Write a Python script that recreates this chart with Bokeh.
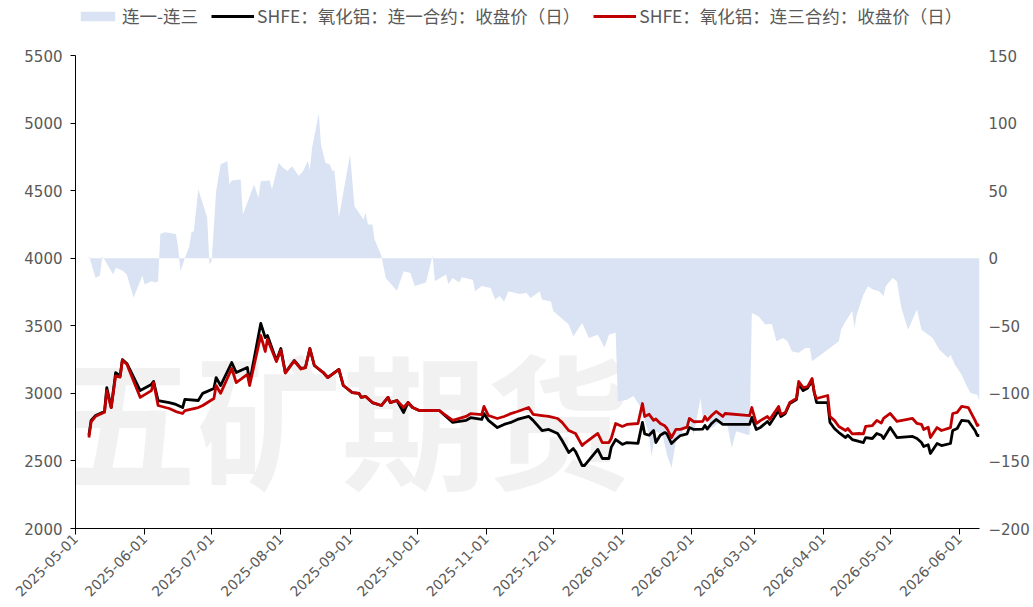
import math
import pandas as pd
from bokeh.plotting import figure
from bokeh.models import (Range1d, LinearAxis, FixedTicker, DatetimeTickFormatter,
                          Legend, LegendItem, Label)
from bokeh.embed import file_html
from bokeh.resources import INLINE

# ---------------- data ----------------
price_dates = [
    "2025-05-07", "2025-05-08", "2025-05-10", "2025-05-14", "2025-05-15", "2025-05-17",
    "2025-05-19", "2025-05-21", "2025-05-22", "2025-05-24", "2025-05-30", "2025-06-04",
    "2025-06-05", "2025-06-07", "2025-06-12", "2025-06-15", "2025-06-18", "2025-06-19",
    "2025-06-25", "2025-06-27", "2025-07-02", "2025-07-03", "2025-07-05", "2025-07-10",
    "2025-07-12", "2025-07-17", "2025-07-18", "2025-07-23", "2025-07-25", "2025-07-26",
    "2025-07-30", "2025-08-01", "2025-08-03", "2025-08-07", "2025-08-10", "2025-08-12",
    "2025-08-14", "2025-08-16", "2025-08-20", "2025-08-22", "2025-08-27", "2025-08-29",
    "2025-09-02", "2025-09-05", "2025-09-06", "2025-09-08", "2025-09-11", "2025-09-15",
    "2025-09-18", "2025-09-19", "2025-09-22", "2025-09-25", "2025-09-27", "2025-09-29",
    "2025-10-02", "2025-10-11", "2025-10-17", "2025-10-23", "2025-10-25", "2025-10-30",
    "2025-10-31", "2025-11-02", "2025-11-06", "2025-11-09", "2025-11-12", "2025-11-15",
    "2025-11-20", "2025-11-22", "2025-11-26", "2025-11-29", "2025-12-03", "2025-12-05",
    "2025-12-08", "2025-12-10", "2025-12-11", "2025-12-14", "2025-12-15", "2025-12-21",
    "2025-12-23", "2025-12-26", "2025-12-27", "2025-12-29", "2026-01-01", "2026-01-03",
    "2026-01-08", "2026-01-10", "2026-01-11", "2026-01-13", "2026-01-15", "2026-01-16",
    "2026-01-18", "2026-01-20", "2026-01-21", "2026-01-23", "2026-01-25", "2026-01-27",
    "2026-01-30", "2026-01-31", "2026-02-02", "2026-02-06", "2026-02-07", "2026-02-08",
    "2026-02-10", "2026-02-12", "2026-02-15", "2026-02-16", "2026-02-27", "2026-02-28",
    "2026-03-02", "2026-03-04", "2026-03-07", "2026-03-08", "2026-03-12", "2026-03-13",
    "2026-03-15", "2026-03-17", "2026-03-20", "2026-03-21", "2026-03-23", "2026-03-25",
    "2026-03-27", "2026-03-28", "2026-03-29", "2026-04-03", "2026-04-04", "2026-04-06",
    "2026-04-08", "2026-04-11", "2026-04-12", "2026-04-14", "2026-04-17", "2026-04-19",
    "2026-04-20", "2026-04-23", "2026-04-25", "2026-04-27", "2026-04-28", "2026-05-01",
    "2026-05-04", "2026-05-11", "2026-05-13", "2026-05-15", "2026-05-16", "2026-05-18",
    "2026-05-19", "2026-05-22", "2026-05-24", "2026-05-28", "2026-05-29", "2026-05-31",
    "2026-06-02", "2026-06-05", "2026-06-08", "2026-06-09", "2026-06-10",
]

near_close = [  # SHFE：氧化铝：连一合约：收盘价（日）
    2690, 2800, 2836, 2866, 3043, 2895,
    3154, 3130, 3250, 3221, 3021, 3066,
    3088, 2947, 2932, 2918, 2895, 2955,
    2947, 3000, 3036, 3117, 3058, 3228,
    3154, 3191, 3080, 3517, 3413, 3428,
    3243, 3332, 3154, 3243, 3184, 3190,
    3332, 3206, 3154, 3117, 3177, 3058,
    3006, 3000, 2970, 2977, 2932, 2910,
    2970, 2932, 2947, 2858, 2932, 2895,
    2873, 2873, 2785, 2800, 2820, 2807,
    2850, 2800, 2747, 2770, 2785, 2807,
    2830, 2800, 2725, 2733, 2703, 2651,
    2562, 2592, 2570, 2466, 2466, 2585,
    2518, 2518, 2600, 2658, 2622, 2636,
    2630, 2785, 2700, 2690, 2725, 2636,
    2690, 2710, 2700, 2629, 2660, 2688,
    2700, 2747, 2733, 2736, 2762, 2736,
    2777, 2807, 2770, 2770, 2770, 2822,
    2733, 2750, 2792, 2770, 2873, 2829,
    2851, 2925, 2955, 3070, 3020, 3040,
    3095, 3006, 2932, 2932, 2785, 2740,
    2710, 2673, 2690, 2658, 2644, 2636,
    2673, 2666, 2703, 2690, 2666, 2747,
    2673, 2681, 2666, 2636, 2607, 2620,
    2555, 2629, 2614, 2629, 2725, 2740,
    2800, 2795, 2725, 2688, 2688,
]

third_close = [  # SHFE：氧化铝：连三合约：收盘价（日）
    2673, 2790, 2830, 2860, 3020, 2895,
    3130, 3120, 3245, 3215, 2970, 3020,
    3080, 2910, 2888, 2865, 2851, 2873,
    2895, 2910, 2962, 3058, 3000, 3184,
    3080, 3140, 3058, 3428, 3310, 3400,
    3235, 3320, 3150, 3240, 3180, 3190,
    3332, 3206, 3154, 3117, 3177, 3058,
    3006, 3000, 2970, 2977, 2932, 2910,
    2970, 2932, 2947, 2895, 2932, 2895,
    2873, 2873, 2800, 2829, 2850, 2843,
    2903, 2836, 2814, 2829, 2850, 2866,
    2895, 2845, 2836, 2830, 2814, 2785,
    2725, 2710, 2703, 2614, 2630, 2703,
    2636, 2636, 2666, 2777, 2755, 2770,
    2777, 2925, 2829, 2845, 2800, 2810,
    2777, 2760, 2740, 2673, 2733, 2733,
    2750, 2814, 2790, 2792, 2829, 2800,
    2836, 2866, 2829, 2851, 2836, 2895,
    2777, 2800, 2829, 2807, 2903, 2843,
    2858, 2932, 2962, 3088, 3043, 3050,
    3110, 3000, 2962, 2984, 2829, 2800,
    2755, 2725, 2740, 2700, 2703, 2700,
    2755, 2762, 2800, 2780, 2814, 2851,
    2792, 2814, 2777, 2770, 2733, 2750,
    2673, 2747, 2725, 2747, 2851, 2860,
    2903, 2895, 2800, 2762, 2770,
]

spread_dates = [
    "2025-05-07", "2025-05-10", "2025-05-12", "2025-05-13", "2025-05-14", "2025-05-17",
    "2025-05-18", "2025-05-19", "2025-05-22", "2025-05-24", "2025-05-25", "2025-05-27",
    "2025-05-31", "2025-06-01", "2025-06-04", "2025-06-06", "2025-06-07", "2025-06-08",
    "2025-06-10", "2025-06-15", "2025-06-16", "2025-06-17", "2025-06-19", "2025-06-21",
    "2025-06-22", "2025-06-23", "2025-06-25", "2025-06-29", "2025-06-30", "2025-07-01",
    "2025-07-03", "2025-07-05", "2025-07-08", "2025-07-09", "2025-07-10", "2025-07-14",
    "2025-07-15", "2025-07-20", "2025-07-22", "2025-07-23", "2025-07-27", "2025-07-28",
    "2025-07-31", "2025-08-02", "2025-08-04", "2025-08-06", "2025-08-09", "2025-08-11",
    "2025-08-13", "2025-08-14", "2025-08-15", "2025-08-18", "2025-08-19", "2025-08-21",
    "2025-08-23", "2025-08-24", "2025-08-25", "2025-08-27", "2025-09-01", "2025-09-03",
    "2025-09-05", "2025-09-07", "2025-09-08", "2025-09-09", "2025-09-11", "2025-09-12",
    "2025-09-15", "2025-09-17", "2025-09-22", "2025-09-25", "2025-09-28", "2025-09-30",
    "2025-10-05", "2025-10-08", "2025-10-09", "2025-10-14", "2025-10-15", "2025-10-17",
    "2025-10-20", "2025-10-21", "2025-10-26", "2025-10-27", "2025-10-30", "2025-11-03",
    "2025-11-05", "2025-11-07", "2025-11-09", "2025-11-11", "2025-11-16", "2025-11-19",
    "2025-11-21", "2025-11-25", "2025-11-26", "2025-11-30", "2025-12-01", "2025-12-08",
    "2025-12-10", "2025-12-14", "2025-12-17", "2025-12-21", "2025-12-24", "2025-12-26",
    "2025-12-29", "2025-12-30", "2026-01-03", "2026-01-06", "2026-01-09", "2026-01-13",
    "2026-01-14", "2026-01-16", "2026-01-19", "2026-01-21", "2026-01-23", "2026-01-25",
    "2026-01-28", "2026-01-31", "2026-02-02", "2026-02-05", "2026-02-06", "2026-02-08",
    "2026-02-10", "2026-02-14", "2026-02-17", "2026-02-19", "2026-02-21", "2026-02-26",
    "2026-02-27", "2026-02-28", "2026-03-03", "2026-03-06", "2026-03-09", "2026-03-11",
    "2026-03-14", "2026-03-16", "2026-03-18", "2026-03-21", "2026-03-24", "2026-03-26",
    "2026-03-27", "2026-04-08", "2026-04-09", "2026-04-11", "2026-04-14", "2026-04-15",
    "2026-04-16", "2026-04-19", "2026-04-21", "2026-04-23", "2026-04-26", "2026-04-28",
    "2026-04-29", "2026-05-02", "2026-05-04", "2026-05-06", "2026-05-09", "2026-05-13",
    "2026-05-15", "2026-05-20", "2026-05-23", "2026-05-27", "2026-05-28", "2026-05-30",
    "2026-06-02", "2026-06-04", "2026-06-06", "2026-06-09", "2026-06-10",
]

spread = [  # 连一-连三 (right axis)
    2, -14.6, -12.6, 1.5, -1, -9.6,
    -12, -7, -9, -12, -18, -29,
    -13, -19.5, -17, -18, -17, 18,
    19.3, 18, 7.7, -9.6, 0, 8.9,
    19.5, 19.5, 51, 30, -4.7, -2,
    49.6, 69.4, 71.9, 54.6, 57.5, 58.3,
    32.4, 54.6, 44.7, 57, 57.5, 51,
    70.6, 67, 64.5, 68, 60.8, 64.5,
    71.9, 65.7, 81.8, 107, 84, 70.6,
    69.4, 64.5, 65, 30, 76.8, 38.5,
    33.6, 28.7, 33.6, 25, 25, 13.8,
    2, -14.6, -24, -9.6, -11, -20.6,
    -18, 2, -17, -12, -19, -14.6,
    -18, -14, -16, -24.5, -20.6, -22,
    -30.6, -28, -32, -24.5, -26.4, -25.7,
    -29.4, -24.5, -30.6, -32, -39, -49,
    -57.8, -48, -59, -56.6, -66, -56.6,
    -55, -106, -104.7, -102, -110, -130.7,
    -146.7, -128, -130.7, -145.5, -155, -135.6,
    -128, -120.8, -130.7, -103.5, -118, -116,
    -125.7, -120.8, -123, -140.5, -128, -130.7,
    -130.7, -40.5, -43, -49, -48.7, -61.5,
    -59, -61.5, -69, -70, -66.4, -66.4,
    -76.3, -61.5, -52.9, -46.7, -39, -51.6,
    -41.7, -27, -20.7, -23, -24.5, -28,
    -20.7, -14.6, -17, -36.8, -52.9, -38,
    -52.9, -59, -67.7, -73.9, -71.4, -78.8,
    -86.2, -93.6, -99.8, -101, -106,
]

month_ticks = [
    "2025-05-01", "2025-06-01", "2025-07-01", "2025-08-01", "2025-09-01", "2025-10-01",
    "2025-11-01", "2025-12-01", "2026-01-01", "2026-02-01", "2026-03-01", "2026-04-01",
    "2026-05-01", "2026-06-01",
]
x_axis_start = "2025-05-01"
x_axis_end = "2026-06-10"
left_ticks = [2000, 2500, 3000, 3500, 4000, 4500, 5000, 5500]
right_ticks = [-200, -150, -100, -50, 0, 50, 100, 150]

legend_labels = ["连一-连三", "SHFE：氧化铝：连一合约：收盘价（日）", "SHFE：氧化铝：连三合约：收盘价（日）"]

# ---------------- figure ----------------
pd_dates = pd.to_datetime(price_dates)
sp_dates = pd.to_datetime(spread_dates)

TXT = "#595959"
FONT = "Noto Sans CJK SC"
NUMFONT = "DejaVu Sans"

# The frame reaches the canvas top; the y axes are bounded to their tick spans,
# so the legend sits inside the frame above the 5500 / 150 ticks.
FRAME_H = 528
AXIS_H = 473
left_top = left_ticks[0] + (left_ticks[-1] - left_ticks[0]) * FRAME_H / AXIS_H
right_top = right_ticks[0] + (right_ticks[-1] - right_ticks[0]) * FRAME_H / AXIS_H

t0 = pd.Timestamp(x_axis_start)
t1 = pd.Timestamp(x_axis_end)

p = figure(width=1032, height=606, output_backend="svg", toolbar_location=None,
           x_axis_type="datetime",
           x_range=Range1d(t0, t1),
           y_range=Range1d(left_ticks[0], left_top),
           min_border_left=75, min_border_right=52, min_border_top=0, min_border_bottom=78)
p.outline_line_color = None
p.xgrid.visible = False
p.ygrid.visible = False
p.extra_y_ranges = {"spread": Range1d(right_ticks[0], right_top)}

area = p.varea(x=sp_dates, y1=0, y2=spread, y_range_name="spread",
               fill_color="#DAE3F3", fill_alpha=1.0)
l1 = p.line(pd_dates, near_close, line_color="black", line_width=2.8, line_join="round")
l2 = p.line(pd_dates, third_close, line_color="#C00000", line_width=2.8, line_join="round")

# watermark
wm = Label(x=-24, y=113, x_units="screen", y_units="screen", text="五矿期货",
           text_font=FONT, text_font_size="145px", text_font_style="bold",
           text_color="#EDEDED", text_alpha=0.8, text_baseline="middle", level="underlay")
p.add_layout(wm)

# x axis
tick_ms = [int(pd.Timestamp(t).value // 10**6) for t in month_ticks]
xa = p.xaxis[0]
xa.ticker = FixedTicker(ticks=tick_ms)
fmt = "%Y-%m-%d"
xa.formatter = DatetimeTickFormatter(milliseconds=fmt, seconds=fmt, minsec=fmt, minutes=fmt,
                                     hourmin=fmt, hours=fmt, days=fmt, months=fmt, years=fmt)
xa.major_label_orientation = math.pi / 4
xa.major_label_text_font = NUMFONT
xa.major_label_text_font_size = "14px"
xa.major_label_text_color = TXT
xa.major_label_standoff = 2
xa.major_tick_in = 0
xa.major_tick_out = 6
xa.minor_tick_line_color = None
xa.axis_line_color = "black"
xa.major_tick_line_color = "black"

# left axis
ya = p.yaxis[0]
ya.ticker = FixedTicker(ticks=left_ticks)
ya.bounds = (left_ticks[0], left_ticks[-1])
ya.major_label_text_font = NUMFONT
ya.major_label_text_font_size = "15px"
ya.major_label_text_color = TXT
ya.major_label_standoff = 8
ya.major_tick_in = 0
ya.major_tick_out = 5
ya.minor_tick_line_color = None
ya.axis_line_color = "black"
ya.major_tick_line_color = "black"

# right axis
ra = LinearAxis(y_range_name="spread", ticker=FixedTicker(ticks=right_ticks),
                bounds=(right_ticks[0], right_ticks[-1]))
ra.axis_line_color = None
ra.major_tick_line_color = None
ra.major_tick_in = 0
ra.major_tick_out = 0
ra.minor_tick_line_color = None
ra.major_label_text_font = NUMFONT
ra.major_label_text_font_size = "15px"
ra.major_label_text_color = TXT
ra.major_label_standoff = 9
p.add_layout(ra, "right")

legend = Legend(items=[LegendItem(label=legend_labels[0], renderers=[area]),
                       LegendItem(label=legend_labels[1], renderers=[l1]),
                       LegendItem(label=legend_labels[2], renderers=[l2])],
                location=(1, 500), orientation="horizontal",
                glyph_width=43, glyph_height=12, label_standoff=3, spacing=13,
                padding=0, margin=0, border_line_color=None, background_fill_alpha=0,
                label_text_font=FONT, label_text_font_size="17.5px", label_text_color=TXT)
p.add_layout(legend, "center")

open("out.html", "w").write(file_html(p, INLINE))
